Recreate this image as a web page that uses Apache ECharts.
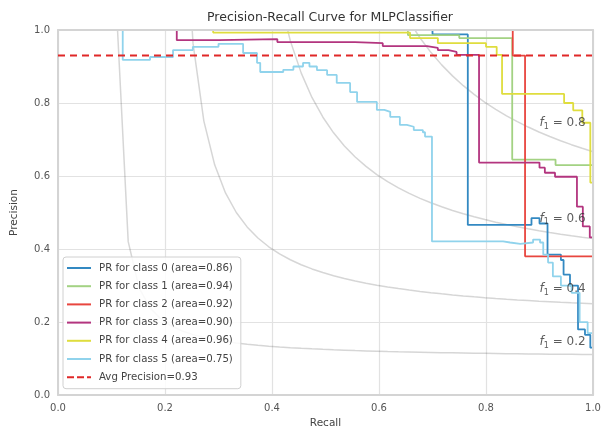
<!DOCTYPE html>
<html><head><meta charset="utf-8">
<script src="https://cdn.jsdelivr.net/npm/echarts@6/dist/echarts.min.js"></script>
<style>html,body{margin:0;padding:0;background:#fff}#c{width:610px;height:434px}</style>
</head><body><div id="c"></div>
<script>
// ---------- data ----------
const chartTitle = 'Precision-Recall Curve for MLPClassifier';
const xAxisName = 'Recall';
const yAxisName = 'Precision';
const axisTicks = [0.0, 0.2, 0.4, 0.6, 0.8, 1.0];

const classNames = [
  'PR for class 0 (area=0.86)',
  'PR for class 1 (area=0.94)',
  'PR for class 2 (area=0.92)',
  'PR for class 3 (area=0.90)',
  'PR for class 4 (area=0.96)',
  'PR for class 5 (area=0.75)'
];
const avgName = 'Avg Precision=0.93';
const avgPrecision = 0.93;

// step curves (precision holds from each recall until the next one)
const class0Recall    = [0.0, 0.70, 0.766, 0.885, 0.90, 0.915, 0.94, 0.945, 0.957, 0.972, 0.985, 0.995, 1.0];
const class0Precision = [1.0, 0.988, 0.466, 0.485, 0.47, 0.385, 0.37, 0.33, 0.30, 0.18, 0.165, 0.13, 0.13];

const class1Recall    = [0.0, 0.654, 0.75, 0.849, 0.93, 1.0];
const class1Precision = [1.0, 0.986, 0.978, 0.645, 0.63, 0.63];

const class2Recall    = [0.0, 0.85, 0.873, 1.0];
const class2Precision = [1.0, 0.93, 0.38, 0.38];

const class3Recall    = [0.0, 0.222, 0.30, 0.41, 0.555, 0.607, 0.69, 0.71, 0.73, 0.745, 0.787, 0.90, 0.91, 0.929, 0.97, 0.981, 0.994, 1.0];
const class3Precision = [1.0, 0.972, 0.975, 0.967, 0.964, 0.956, 0.951, 0.945, 0.94, 0.932, 0.637, 0.623, 0.609, 0.598, 0.516, 0.462, 0.432, 0.432];

const class4Recall    = [0.0, 0.29, 0.658, 0.71, 0.80, 0.82, 0.83, 0.946, 0.963, 0.98, 0.995, 1.0];
const class4Precision = [1.0, 0.993, 0.978, 0.964, 0.954, 0.932, 0.825, 0.80, 0.78, 0.746, 0.582, 0.582];

const class5Recall    = [0.0, 0.121, 0.172, 0.215, 0.252, 0.30, 0.346, 0.372, 0.378, 0.421, 0.44, 0.458, 0.47, 0.484, 0.503, 0.521, 0.546, 0.559, 0.596, 0.61, 0.621, 0.639, 0.652, 0.665, 0.682, 0.686, 0.699, 0.832, 0.845, 0.864, 0.888, 0.901, 0.907, 0.916, 0.925, 0.94, 0.96, 0.975, 0.99, 1.0];
const class5Precision = [1.0, 0.918, 0.926, 0.945, 0.954, 0.962, 0.937, 0.91, 0.885, 0.891, 0.90, 0.91, 0.90, 0.89, 0.877, 0.855, 0.83, 0.803, 0.781, 0.776, 0.762, 0.74, 0.735, 0.726, 0.72, 0.708, 0.421, 0.418, 0.414, 0.418, 0.426, 0.418, 0.385, 0.363, 0.325, 0.30, 0.28, 0.20, 0.17, 0.17];

// iso-F1 reference curves
const isoF1Values = [0.2, 0.4, 0.6, 0.8];
const isoLabelRecall = 0.9;
const isoLabelPrecision = [0.145, 0.292, 0.484, 0.746];

// ---------- styles ----------
const classColors = ['#3389c2', '#a3d283', '#e8463f', '#b3357f', '#dfdd3e', '#90d3ec'];
const avgColor = '#e02828';
const isoColor = 'rgba(51,51,51,0.2)';
const FONT = 'DejaVu Sans';

const allRecall = [class0Recall, class1Recall, class2Recall, class3Recall, class4Recall, class5Recall];
const allPrecision = [class0Precision, class1Precision, class2Precision, class3Precision, class4Precision, class5Precision];

const series = [];

// iso-F1 curves: precision = f*r / (2r - f), sampled on the grid the original plot used
const isoRecallGrid = [];
for (let i = 0; i < 50; i++) isoRecallGrid.push(0.01 + i * 0.99 / 49);
isoF1Values.forEach(f => {
  const pts = [];
  isoRecallGrid.forEach(r => {
    const p = f * r / (2 * r - f);
    if (p >= 0) pts.push([r, p]);
  });
  series.push({
    type: 'line', data: pts, showSymbol: false, symbol: 'none', silent: true,
    lineStyle: { color: isoColor, width: 1.5 }, z: 1
  });
});

classNames.forEach((name, i) => {
  series.push({
    name, type: 'line', step: 'end', showSymbol: false, symbol: 'none',
    data: allRecall[i].map((r, k) => [r, allPrecision[i][k]]),
    itemStyle: { color: classColors[i] },
    lineStyle: { color: classColors[i], width: 1.8 }, z: 2
  });
});

series.push({
  name: avgName, type: 'line', showSymbol: false, symbol: 'none',
  data: [[0, avgPrecision], [1, avgPrecision]],
  itemStyle: { color: avgColor },
  lineStyle: { color: avgColor, width: 2, type: [7, 5] }, z: 3
});

series.push({
  type: 'scatter', symbolSize: 0, silent: true, z: 4,
  data: isoF1Values.map((f, i) => ({ value: [isoLabelRecall, isoLabelPrecision[i]], f })),
  label: {
    show: true, position: 'right', distance: 0,
    formatter: p => '{i|f}{s|1}{n| = ' + p.data.f.toFixed(1) + '}',
    rich: {
      i: { fontFamily: FONT, fontStyle: 'italic', fontSize: 12, color: '#333' },
      s: { fontFamily: FONT, fontSize: 8, color: '#333', padding: [8, 0, 0, 0] },
      n: { fontFamily: FONT, fontSize: 12, color: '#333' }
    }
  }
});

const frameLine = { show: true, onZero: false, lineStyle: { color: '#d4d4d4', width: 2 } };
const gridLine = { show: true, lineStyle: { color: '#e2e2e2', width: 1.2 } };

const lineIcon = 'path://M0,0h24v2h-24z';
const dashIcon = 'path://M0,0h7v2h-7zM10,0h7v2h-7zM20,0h4v2h-4z';

const option = {
  animation: false,
  backgroundColor: '#fff',
  title: {
    text: chartTitle, left: 325, top: 6, textAlign: 'center',
    textStyle: { fontFamily: FONT, fontSize: 12.5, fontWeight: 'normal', color: '#333' }
  },
  legend: {
    data: classNames.map(n => ({ name: n, icon: lineIcon })).concat([{ name: avgName, icon: dashIcon }]),
    orient: 'vertical', left: 63, top: 257,
    itemWidth: 24, itemHeight: 2, itemGap: 5.2,
    padding: [4.5, 8, 5, 4],
    backgroundColor: 'rgba(255,255,255,0.85)', borderColor: '#d0d0d0', borderWidth: 1, borderRadius: 3,
    textStyle: { fontFamily: FONT, fontSize: 10.2, lineHeight: 13, color: '#444', padding: [0, 0, 0, 3] }
  },
  grid: { left: 58, right: 17, top: 30, bottom: 38 },
  xAxis: [{
    type: 'value', min: 0, max: 1, interval: 0.2,
    name: xAxisName, nameLocation: 'middle', nameGap: 21,
    nameTextStyle: { fontFamily: FONT, fontSize: 10.5, color: '#444' },
    axisLine: frameLine, axisTick: { show: false }, splitLine: gridLine,
    axisLabel: { fontFamily: FONT, fontSize: 10, color: '#555', margin: 8,
      formatter: v => axisTicks.includes(+v.toFixed(1)) ? v.toFixed(1) : '' }
  }, {
    type: 'value', min: 0, max: 1, position: 'top', zlevel: 1,
    axisLine: frameLine, axisTick: { show: false }, axisLabel: { show: false }, splitLine: { show: false }
  }],
  yAxis: [{
    type: 'value', min: 0, max: 1, interval: 0.2,
    name: yAxisName, nameLocation: 'middle', nameGap: 38,
    nameTextStyle: { fontFamily: FONT, fontSize: 10.5, color: '#444' },
    axisLine: frameLine, axisTick: { show: false }, splitLine: gridLine,
    axisLabel: { fontFamily: FONT, fontSize: 10, color: '#555', margin: 8,
      formatter: v => v.toFixed(1) }
  }, {
    type: 'value', min: 0, max: 1, position: 'right', zlevel: 1,
    axisLine: frameLine, axisTick: { show: false }, axisLabel: { show: false }, splitLine: { show: false }
  }],
  series
};

echarts.init(document.getElementById('c'), null, { renderer: 'canvas' }).setOption(option);
</script>
</body></html>
